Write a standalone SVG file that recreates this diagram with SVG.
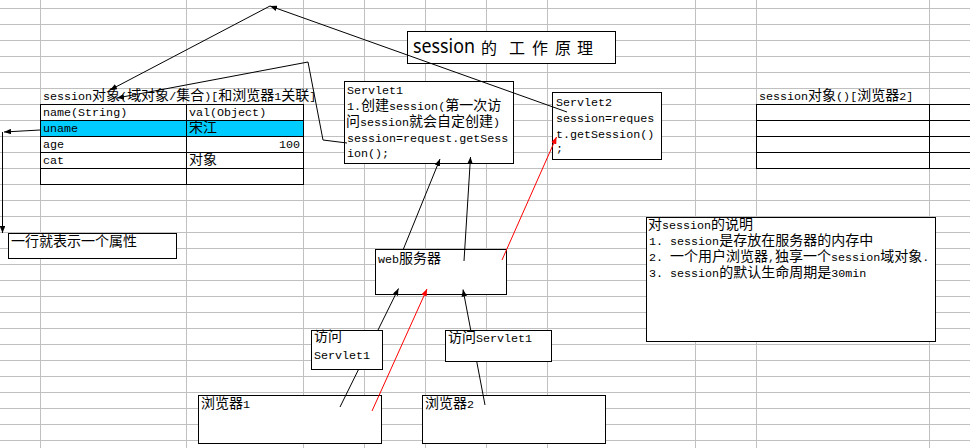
<svg xmlns="http://www.w3.org/2000/svg" width="970" height="448" viewBox="0 0 970 448">
<style>
.grid{stroke:#c0c0c0;stroke-width:1;fill:none}
.bd{stroke:#000;stroke-width:1;fill:none}
.box{fill:#fff;stroke:#000;stroke-width:1}
.m{font-family:"Liberation Mono","Noto Sans CJK SC",monospace;font-size:11.7px;fill:#000}
.k{font-family:"Noto Sans CJK SC","Liberation Sans",sans-serif;font-size:14px}
.ti{font-family:"Noto Sans","Liberation Sans",sans-serif;font-size:19px;fill:#000}
.tk{font-family:"Noto Sans CJK SC",sans-serif;font-size:16px}
.cn{stroke:#000;stroke-width:1;fill:none;marker-end:url(#ab)}
.cr{stroke:#ff0000;stroke-width:1;fill:none;marker-end:url(#ar)}
</style>
<defs>
<marker id="ab" viewBox="0 0 10 8" refX="10" refY="4" markerWidth="7" markerHeight="5.6" orient="auto" markerUnits="userSpaceOnUse"><path d="M0,0L10,4L0,8z" fill="#000"/></marker>
<marker id="ar" viewBox="0 0 10 8" refX="10" refY="4" markerWidth="7" markerHeight="5.6" orient="auto" markerUnits="userSpaceOnUse"><path d="M0,0L10,4L0,8z" fill="#ff0000"/></marker>
</defs>
<rect width="970" height="448" fill="#fff"/>
<g id="grid">
<path class="grid" d="M0 8.5H970M0 24.5H970M0 40.5H970M0 56.5H970M0 72.5H970M0 88.5H970M0 104.5H970M0 120.5H970M0 136.5H970M0 152.5H970M0 168.5H970M0 184.5H970M0 200.5H970M0 216.5H970M0 232.5H970M0 248.5H970M0 264.5H970M0 280.5H970M0 296.5H970M0 312.5H970M0 328.5H970M0 344.5H970M0 360.5H970M0 376.5H970M0 392.5H970M0 408.5H970M0 424.5H970M0 440.5H970"/>
<path class="grid" d="M40.5 0V448M186.5 0V448M303.5 0V448M364.5 0V448M425.5 0V448M486.5 0V448M547.5 0V448M695.5 0V448M756.5 0V448M929.5 0V448"/>
</g>
<g id="table1">
<rect x="40" y="120" width="264" height="17" fill="#00ccff"/>
<path class="bd" d="M40 104.5H304M40 120.5H304M40 136.5H304M40 152.5H304M40 168.5H304M40 184.5H304M40.5 104V185M186.5 104V185M303.5 104V185"/>
<text class="m" x="43" y="100">session<tspan class="k">对象</tspan>(<tspan class="k">域对象</tspan>/<tspan class="k">集合</tspan>)[<tspan class="k">和浏览器</tspan>1<tspan class="k">关联</tspan>]</text>
<text class="m" x="43" y="116">name(String)</text>
<text class="m" x="189" y="116">val(Object)</text>
<text class="m" x="43" y="132">uname</text>
<text class="m" x="189" y="132"><tspan class="k">宋江</tspan></text>
<text class="m" x="43" y="148">age</text>
<text class="m" x="300" y="148" text-anchor="end">100</text>
<text class="m" x="43" y="164">cat</text>
<text class="m" x="189" y="164"><tspan class="k">对象</tspan></text>
</g>
<g id="table2">
<path class="bd" d="M756 104.5H970M756 120.5H970M756 136.5H970M756 152.5H970M756 168.5H970M756.5 104V169M929.5 104V169"/>
<text class="m" x="759" y="100">session<tspan class="k">对象</tspan>()[<tspan class="k">浏览器</tspan>2]</text>
</g>
<g id="title">
<rect class="box" x="407.5" y="31.5" width="208" height="32"/>
<text class="ti" x="413" y="53"><tspan textLength="62" lengthAdjust="spacingAndGlyphs">session</tspan><tspan class="tk" x="481" y="54">的</tspan><tspan class="tk" x="509" y="54">工</tspan><tspan class="tk" x="532" y="54">作</tspan><tspan class="tk" x="555" y="54">原</tspan><tspan class="tk" x="577" y="54">理</tspan></text>
</g>
<g id="servlet1">
<rect class="box" x="344.5" y="81.5" width="169" height="82"/>
<text class="m"><tspan x="347" y="94">Servlet1</tspan><tspan x="347" y="110">1.<tspan class="k">创建</tspan>session(<tspan class="k">第一次访</tspan></tspan><tspan x="346" y="126"><tspan class="k">问</tspan>session<tspan class="k">就会自定创建</tspan>)</tspan><tspan x="347" y="142">session=request.getSess</tspan><tspan x="347" y="157">ion();</tspan></text>
</g>
<g id="servlet2">
<rect class="box" x="552.5" y="92.5" width="109" height="67"/>
<text class="m"><tspan x="556" y="105.5">Servlet2</tspan><tspan x="556" y="121.5">session=reques</tspan><tspan x="556" y="137.5">t.getSession()</tspan><tspan x="556" y="152">;</tspan></text>
</g>
<g id="attr-note">
<rect class="box" x="8.5" y="233.5" width="168" height="25"/>
<text class="m" x="11" y="246"><tspan class="k">一行就表示一个属性</tspan></text>
</g>
<g id="webserver">
<rect class="box" x="375.5" y="249.5" width="131" height="45"/>
<text class="m" x="378" y="262.5">web<tspan class="k">服务器</tspan></text>
</g>
<g id="note">
<rect class="box" x="646.5" y="217.5" width="289" height="124"/>
<text class="m"><tspan x="648" y="229"><tspan class="k">对</tspan>session<tspan class="k">的说明</tspan></tspan><tspan x="649" y="245">1. session<tspan class="k">是存放在服务器的内存中</tspan></tspan><tspan x="649" y="261">2. <tspan class="k">一个用户浏览器</tspan>,<tspan class="k">独享一个</tspan>session<tspan class="k">域对象</tspan>.</tspan><tspan x="649" y="277">3. session<tspan class="k">的默认生命周期是</tspan>30min</tspan></text>
</g>
<g id="browser1">
<rect class="box" x="198.5" y="395.5" width="183" height="48"/>
<text class="m" x="201" y="407.5"><tspan class="k">浏览器</tspan>1</text>
</g>
<g id="browser2">
<rect class="box" x="422.5" y="395.5" width="183" height="48"/>
<text class="m" x="425" y="407.5"><tspan class="k">浏览器</tspan>2</text>
</g>
<g id="connectors">
<path class="cn" d="M567 112L270 6"/>
<path class="cn" d="M270 6L110 90"/>
<path class="cn" d="M347 143L323 140L308 62L117 98"/>
<path class="cn" d="M40 130L4 132"/>
<path class="cn" d="M2.5 132V233"/>
<path class="cn" d="M403 250L440 159"/>
<path class="cn" d="M464 261L470.5 157"/>
<path class="cr" d="M502 260L556.5 137"/>
<path class="cn" d="M340 407L398.5 288.5"/>
<path class="cr" d="M372 411L427 289"/>
<path class="cn" d="M485 405L463 289.5"/>
</g>
<g id="access1">
<rect class="box" x="311.5" y="330.5" width="71" height="39"/>
<text class="m"><tspan x="314" y="341"><tspan class="k">访问</tspan></tspan><tspan x="314" y="359">Servlet1</tspan></text>
</g>
<g id="access2">
<rect class="box" x="445.5" y="330.5" width="106" height="31"/>
<text class="m" x="448" y="342"><tspan class="k">访问</tspan>Servlet1</text>
</g>
</svg>
